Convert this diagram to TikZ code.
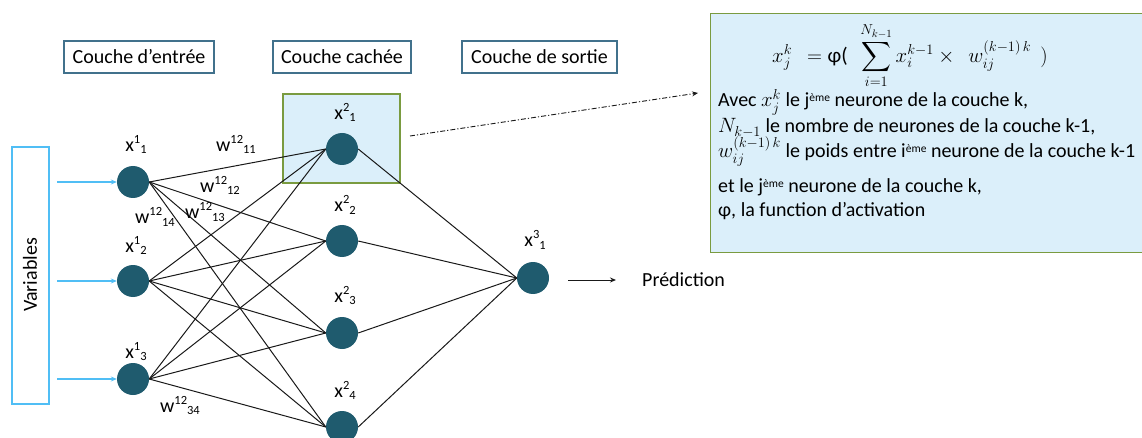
\documentclass[tikz,border=0pt]{standalone}
\usepackage{amsmath}
\usepackage[no-math]{fontspec}
\setmainfont{Carlito}
\usetikzlibrary{arrows.meta}
\definecolor{neur}{RGB}{31,91,110}
\definecolor{lbox}{RGB}{65,113,140}
\definecolor{vblue}{RGB}{80,190,245}
\definecolor{hlfill}{RGB}{219,239,250}
\definecolor{hlgreen}{RGB}{122,155,64}
\definecolor{edgec}{RGB}{25,25,25}
\newcommand\lab[3]{#1\raisebox{8pt}{\fontsize{12.5}{12.5}\selectfont #2}\raisebox{-2pt}{\fontsize{12.5}{12.5}\selectfont #3}}
\newcommand\eme{\raisebox{5.5pt}{\fontsize{11.5}{11.5}\selectfont ème}}
\newcommand\im[1]{{\fontsize{22}{24}\selectfont$#1$}}
\begin{document}
\begin{tikzpicture}[x=1pt,y=-1pt,font=\fontsize{20}{24}\selectfont,
  neuron/.style={circle,fill=neur,minimum size=32pt,inner sep=0pt},
  layerbox/.style={draw=lbox,line width=1.1pt,minimum height=32pt,inner sep=0pt},
  conn/.style={draw=edgec,line width=1pt},
  lbl/.style={anchor=base,inner sep=0pt},
  inarrow/.style={draw=vblue,line width=1.2pt,-{Stealth[length=6pt,width=5pt]}},
  hlbox/.style={draw=hlgreen,fill=hlfill,line width=1.1pt,inner sep=0pt},
  ftext/.style={anchor=base west,inner sep=0pt,font=\fontsize{20}{24}\selectfont}]
\useasboundingbox (0,0) rectangle (1142,438);
\clip (0,0) rectangle (1142,438);

% layer titles
\node[layerbox,minimum width=150pt] (c1) at (139,57) {Couche d’entrée};
\node[layerbox,minimum width=138pt] (c2) at (342,57) {Couche cachée};
\node[layerbox,minimum width=155pt] (c3) at (539.5,57) {Couche de sortie};

% variables box
\node[draw=vblue,line width=1.1pt,minimum width=37pt,minimum height=257pt,inner sep=0pt] (var) at (30.5,275.5) {};
\node[rotate=90,inner sep=0pt] (vart) at (30,275) {Variables};

% highlight box
\node[hlbox,minimum width=117pt,minimum height=89pt] (hl) at (341.5,138.5) {};

% formula box
\node[hlbox,minimum width=460pt,minimum height=239pt,anchor=north west] (fb) at (710,13) {};

% neurons
\node[neuron] (i1) at (133,182) {};
\node[neuron] (i2) at (133,281) {};
\node[neuron] (i3) at (133,379) {};
\node[neuron] (h1) at (342,149) {};
\node[neuron] (h2) at (342,241) {};
\node[neuron] (h3) at (342,333) {};
\node[neuron] (h4) at (342,427) {};
\node[neuron] (o1) at (533,278) {};

% connections
\foreach \i in {1,2,3}{
  \foreach \h in {1,2,3,4}{
    \draw[conn] (i\i.east) -- (h\h.west);
  }
}
\foreach \h in {1,2,3,4}{
  \draw[conn] (h\h.east) -- (o1.west);
}

% input arrows
\foreach \i/\y in {1/182,2/281,3/379}{
  \coordinate (a\i) at (57,\y);
  \draw[inarrow] (a\i) -- (i\i.west);
}

% neuron labels
\node[lbl] (l11) at (136,152) {\lab{x}{1}{1}};
\node[lbl] (l12) at (136,252) {\lab{x}{1}{2}};
\node[lbl] (l13) at (136,358) {\lab{x}{1}{3}};
\node[lbl] (l21) at (345,120) {\lab{x}{2}{1}};
\node[lbl] (l22) at (345,212) {\lab{x}{2}{2}};
\node[lbl] (l23) at (345,302) {\lab{x}{2}{3}};
\node[lbl] (l24) at (345,397) {\lab{x}{2}{4}};
\node[lbl] (l31) at (535,247) {\lab{x}{3}{1}};

% weight labels
\node[lbl] (w11) at (236,152) {\lab{w}{12}{11}};
\node[lbl] (w12) at (220,193) {\lab{w}{12}{12}};
\node[lbl] (w13) at (205,219) {\lab{w}{12}{13}};
\node[lbl] (w14) at (155,224) {\lab{w}{12}{14}};
\node[lbl] (w34) at (180,412) {\lab{w}{12}{34}};

% prediction
\coordinate (pa) at (568,280);
\node[anchor=west,inner sep=0pt] (pred) at (642,280) {Prédiction};
\coordinate (pb) at (616,280);
\draw[edgec,line width=1pt,-{Stealth[length=6pt,width=5pt]}] (pa) -- (pb);

% dash-dot arrow
\coordinate (da) at (410,136);
\coordinate (db) at (698,93);
\draw[edgec,line width=0.9pt,dash pattern=on 5pt off 2pt on 1.2pt off 2pt,-{Stealth[length=6pt,width=5pt]}] (da) -- (db);

% formula
\node[inner sep=0pt,font=\fontsize{21}{25}\selectfont] (form) at (910,56)
  {$\displaystyle x_j^k\;\, = \mbox{φ(}\;\, \sum_{i=1}^{N_{k-1}} x_i^{k-1}\times\;\, w_{ij}^{(k-1)\,k}\;\, )$};
\node[ftext] (t1) at (718,107) {Avec \im{x_j^k} le j\eme{} neurone de la couche k,};
\node[ftext] (t2) at (718,133) {\im{N_{k-1}} le nombre de neurones de la couche k-1,};
\node[ftext] (t3) at (718,158) {\im{w_{ij}^{(k-1)\,k}} le poids entre i\eme{} neurone de la couche k-1};
\node[ftext] (t4) at (718,193) {et le j\eme{} neurone de la couche k,};
\node[ftext] (t5) at (718,217) {φ, la function d’activation};
\end{tikzpicture}
\end{document}
